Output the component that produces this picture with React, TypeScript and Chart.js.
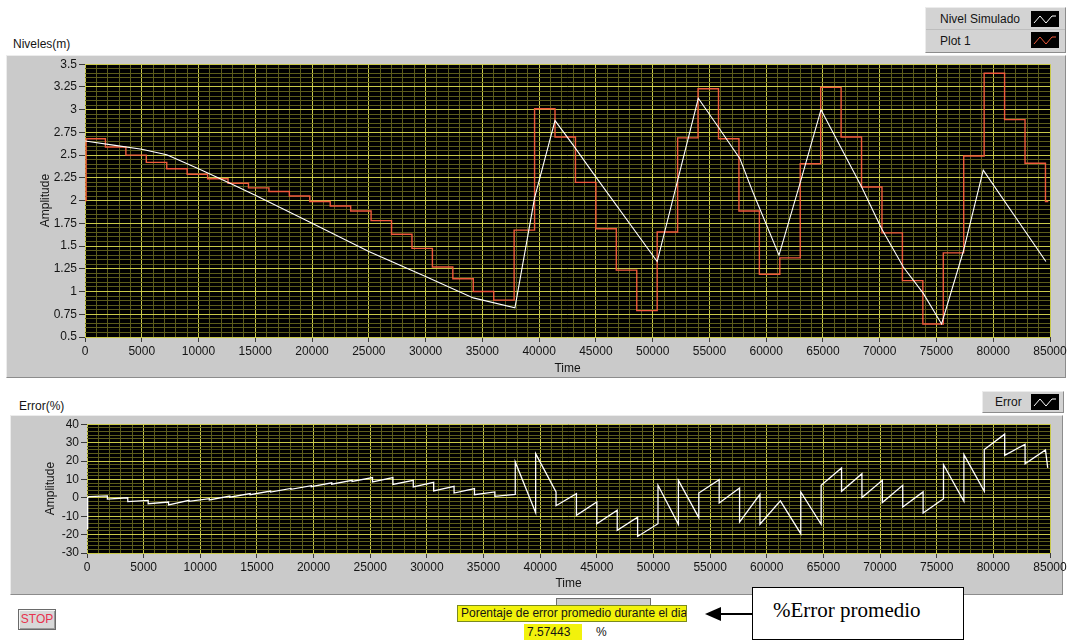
import React, { useEffect, useRef } from 'react';
import { Chart, registerables } from 'chart.js';

Chart.register(...registerables);

const FONT = "'Liberation Sans', Arial, Helvetica, sans-serif";

// ---- Niveles(m) chart ----
const nivelTime = [0, 2500, 5000, 7200, 10000, 12770, 15000, 20000, 25000, 30000, 34200, 37870, 39600, 41400, 43000, 44770, 50400, 54020, 55780, 57690, 58870, 61130, 62980, 64830, 68410, 70170, 72080, 73840, 75450, 77360, 79120, 84640];
const nivelValue = [2.655, 2.61, 2.565, 2.505, 2.35, 2.19, 2.06, 1.75, 1.44, 1.165, 0.93, 0.82, 2.03, 2.88, 2.61, 2.3, 1.33, 3.125, 2.81, 2.46, 2.08, 1.4, 2.19, 3.0, 2.15, 1.69, 1.27, 0.98, 0.643, 1.44, 2.335, 1.33];

const plot1Time = [0, 100, 1800, 3600, 5400, 7200, 9000, 10800, 12600, 14400, 16200, 18000, 19800, 21600, 23400, 25200, 27000, 28800, 30600, 32400, 34200, 36000, 37800, 39600, 41400, 43200, 45000, 46800, 48600, 50400, 52200, 54000, 55800, 57600, 59400, 61200, 63000, 64800, 66600, 68400, 70200, 72000, 73800, 75600, 77400, 79200, 81000, 82800, 84600, 84850];
const plot1Value = [2.0, 2.68, 2.59, 2.5, 2.42, 2.35, 2.29, 2.24, 2.19, 2.14, 2.1, 2.05, 1.99, 1.94, 1.885, 1.78, 1.63, 1.475, 1.27, 1.14, 1.0, 0.905, 1.675, 3.01, 2.7, 2.2, 1.69, 1.235, 0.79, 1.655, 2.69, 3.23, 2.68, 1.885, 1.19, 1.37, 2.405, 3.245, 2.7, 2.15, 1.645, 1.12, 0.643, 1.425, 2.49, 3.4, 2.89, 2.41, 1.99, 1.99];

// ---- Error(%) chart ----
const errorTime = [0, 60, 150, 1800, 1800, 3600, 3600, 5400, 5400, 7200, 7200, 9000, 9000, 10800, 10800, 12600, 12600, 14400, 14400, 16200, 16200, 18000, 18000, 19800, 19800, 21600, 21600, 23400, 23400, 25200, 25200, 27000, 27000, 28800, 28800, 30600, 30600, 32400, 32400, 34200, 34200, 36000, 36000, 37800, 37800, 39600, 39600, 41400, 41400, 43200, 43200, 45000, 45000, 46800, 46800, 48600, 48600, 50400, 50400, 52200, 52200, 54000, 54000, 55800, 55800, 57600, 57600, 59400, 59400, 61200, 63000, 63000, 64800, 64800, 66600, 66600, 68400, 68400, 70200, 70200, 72000, 72000, 73800, 73800, 75600, 75600, 77400, 77400, 79200, 79200, 81000, 81000, 82800, 82800, 84600, 84800];
const errorValue = [-16.8, 0.1, 0.6, 1.0, -0.7, 0.0, -2.1, -1.4, -3.2, -2.3, -3.9, -1.4, -1.9, -0.5, -1.2, 0.9, 0.3, 2.3, 1.7, 3.7, 3.1, 5.1, 4.6, 6.6, 6.0, 8.1, 7.4, 9.5, 8.9, 11.0, 8.6, 11.0, 7.3, 9.5, 5.9, 8.4, 3.7, 6.2, 2.6, 5.0, 1.7, 3.2, 0.8, 1.9, 19.5, -8.1, 24.0, 3.2, -4.3, 2.3, -9.5, -2.3, -14.1, -6.8, -17.7, -10.5, -21.0, -14.1, 6.8, -14.4, 9.5, -10.8, 2.6, 9.9, -2.8, 5.3, -13.2, 1.9, -14.4, -1.7, -19.5, 3.2, -14.4, 6.8, 16.2, 3.5, 13.1, 0.1, 9.5, -2.6, 6.8, -5.0, 3.2, -8.3, -0.5, 18.0, -1.9, 23.5, 3.5, 26.2, 34.6, 23.1, 29.1, 18.5, 26.0, 16.3];

// axis settings
const xMin = 0;
const xMax = 85000;
const xMinorStep = 1000;
const xMajorStep = 5000;
const nivelAxis = { min: 0.5, max: 3.5, minor: 0.05, major: 0.25 };
const errorAxis = { min: -30, max: 40, minor: 2, major: 10 };

const MAJOR = '#c8c84a';
const MINOR = '#5c5c1c';
const TICK_MARK = '#3a3a3a';
const TEXT = '#141414';

const isMult = (v: number, m: number) => Math.abs(v / m - Math.round(v / m)) < 1e-6;
const fmt = (v: number) => String(parseFloat(v.toFixed(3)));

const plotBg = {
  id: 'plotBg',
  beforeDraw(chart: any) {
    const { ctx, chartArea: a } = chart;
    ctx.save();
    ctx.fillStyle = '#000000';
    ctx.fillRect(a.left, a.top, a.right - a.left, a.bottom - a.top);
    ctx.restore();
  },
};

function makeOptions(axis: any, yWidth: number, xHeight: number, yTitlePad: number, xTitlePad: number) {
  return {
    responsive: false,
    animation: false as const,
    devicePixelRatio: 1,
    layout: { padding: { left: 0, top: 9, right: 20, bottom: 0 } },
    plugins: { legend: { display: false }, tooltip: { enabled: false } },
    elements: { point: { radius: 0 }, line: { tension: 0 } },
    scales: {
      x: {
        type: 'linear',
        min: xMin,
        max: xMax,
        ticks: {
          stepSize: xMinorStep,
          autoSkip: false,
          maxRotation: 0,
          padding: 2,
          color: TEXT,
          font: { size: 12, family: FONT },
          callback: (v: number) => (isMult(v, xMajorStep) ? String(v) : ''),
        },
        grid: {
          color: (c: any) => (isMult(c.tick.value, xMajorStep) ? MAJOR : MINOR),
          lineWidth: 1,
          tickLength: 5,
          tickColor: (c: any) => (isMult(c.tick.value, xMajorStep) ? TICK_MARK : 'rgba(0,0,0,0)'),
        },
        border: { display: false },
        title: {
          display: true,
          text: 'Time',
          color: TEXT,
          font: { size: 12, family: FONT },
          padding: { top: 0, bottom: xTitlePad },
        },
        afterFit: (s: any) => {
          s.height = xHeight;
        },
      },
      y: {
        type: 'linear',
        min: axis.min,
        max: axis.max,
        ticks: {
          stepSize: axis.minor,
          autoSkip: false,
          padding: 2,
          color: TEXT,
          font: { size: 12, family: FONT },
          callback: (v: number) => (isMult(v, axis.major) ? fmt(v) : ''),
        },
        grid: {
          color: (c: any) => (isMult(c.tick.value, axis.major) ? MAJOR : MINOR),
          lineWidth: 1,
          tickLength: 6,
          tickColor: (c: any) => (isMult(c.tick.value, axis.major) ? TICK_MARK : 'rgba(0,0,0,0)'),
        },
        border: { display: false },
        title: {
          display: true,
          text: 'Amplitude',
          color: TEXT,
          font: { size: 12, family: FONT },
          padding: { top: yTitlePad, bottom: 0 },
        },
        afterFit: (s: any) => {
          s.width = yWidth;
        },
      },
    },
  };
}

const toXY = (xs: number[], ys: number[]) => xs.map((x, i) => ({ x, y: ys[i] }));

function LegendIcon({ color }: { color: string }) {
  return (
    <svg width={28} height={16} style={{ display: 'block' }}>
      <rect x={0} y={0} width={28} height={16} fill="#000" />
      <polyline points="3,12 9,5 15,12 21,5 25,5" fill="none" stroke={color} strokeWidth={1} />
    </svg>
  );
}

const bevel = {
  borderTop: '1px solid #ececec',
  borderLeft: '1px solid #ececec',
  borderRight: '1px solid #8c8c8c',
  borderBottom: '1px solid #8c8c8c',
  boxSizing: 'border-box' as const,
};

export default function App() {
  const topRef = useRef<HTMLCanvasElement | null>(null);
  const botRef = useRef<HTMLCanvasElement | null>(null);

  useEffect(() => {
    const top = new Chart(topRef.current as HTMLCanvasElement, {
      type: 'line',
      data: {
        datasets: [
          {
            label: 'Nivel Simulado',
            data: toXY(nivelTime, nivelValue),
            borderColor: '#ffffff',
            borderWidth: 1.1,
            pointRadius: 0,
          },
          {
            label: 'Plot 1',
            data: toXY(plot1Time, plot1Value),
            borderColor: '#ef5a3c',
            borderWidth: 1.4,
            stepped: true,
            pointRadius: 0,
          },
        ],
      },
      options: makeOptions(nivelAxis, 77, 41, 30, 2) as any,
      plugins: [plotBg],
    });
    const bot = new Chart(botRef.current as HTMLCanvasElement, {
      type: 'line',
      data: {
        datasets: [
          {
            label: 'Error',
            data: toXY(errorTime, errorValue),
            borderColor: '#ffffff',
            borderWidth: 1.3,
            pointRadius: 0,
          },
        ],
      },
      options: makeOptions(errorAxis, 79, 42, 35, 4) as any,
      plugins: [plotBg],
    });
    return () => {
      top.destroy();
      bot.destroy();
    };
  }, []);

  const abs = (l: number, t: number, w?: number, h?: number) => ({
    position: 'absolute' as const,
    left: l,
    top: t,
    ...(w !== undefined ? { width: w } : {}),
    ...(h !== undefined ? { height: h } : {}),
  });

  return (
    <div
      style={{
        position: 'fixed',
        left: 0,
        top: 0,
        width: 1068,
        height: 640,
        overflow: 'hidden',
        background: '#ffffff',
        fontFamily: FONT,
        fontSize: 12,
        color: TEXT,
      }}
    >
      {/* Top chart */}
      <div style={{ ...abs(13, 37), lineHeight: '14px' }}>Niveles(m)</div>
      <div style={{ ...abs(925, 7, 141, 46), background: '#d3d3d3', ...bevel }}>
        <div style={{ ...abs(14, 4), lineHeight: '14px' }}>Nivel Simulado</div>
        <div style={{ ...abs(105, 3) }}>
          <LegendIcon color="#ffffff" />
        </div>
        <div style={{ ...abs(0, 21, 139, 1), background: '#bdbdbd' }} />
        <div style={{ ...abs(14, 26), lineHeight: '14px' }}>Plot 1</div>
        <div style={{ ...abs(105, 24) }}>
          <LegendIcon color="#ef5a3c" />
        </div>
      </div>
      <div style={{ ...abs(6, 55, 1060, 323), background: '#cacaca', ...bevel }} />
      <canvas ref={topRef} width={1062} height={323} style={{ ...abs(8, 55, 1062, 323) }} />

      {/* Bottom chart */}
      <div style={{ ...abs(19, 399), lineHeight: '14px' }}>Error(%)</div>
      <div style={{ ...abs(982, 391, 82, 22), background: '#d3d3d3', ...bevel }}>
        <div style={{ ...abs(12, 3), lineHeight: '14px' }}>Error</div>
        <div style={{ ...abs(48, 2) }}>
          <LegendIcon color="#ffffff" />
        </div>
      </div>
      <div style={{ ...abs(10, 415, 1053, 180), background: '#cacaca', ...bevel }} />
      <canvas ref={botRef} width={1062} height={180} style={{ ...abs(8, 415, 1062, 180) }} />

      {/* Controls */}
      <div
        style={{
          ...abs(18, 609, 38, 21),
          background: '#d8d8d8',
          border: '1px solid #6a6a6a',
          boxSizing: 'border-box',
          boxShadow: 'inset 1px 1px 0 #f4f4f4, inset -1px -1px 0 #9a9a9a',
          color: '#e8324e',
          fontSize: 12,
          lineHeight: '19px',
          textAlign: 'center',
        }}
      >
        STOP
      </div>
      <div
        style={{
          ...abs(556, 598, 95, 14),
          background: '#cfcfcf',
          border: '1px solid #6e6e6e',
          boxSizing: 'border-box',
        }}
      />
      <div
        style={{
          ...abs(457, 605, 230, 17),
          background: '#f2f20c',
          border: '1px solid #7a8a20',
          boxSizing: 'border-box',
          fontSize: 12,
          lineHeight: '15px',
          paddingLeft: 3,
          whiteSpace: 'nowrap',
          overflow: 'hidden',
        }}
      >
        Porentaje de error promedio durante el dia
      </div>
      <div
        style={{
          ...abs(524, 624, 58, 16),
          background: '#f2f20c',
          fontSize: 12,
          lineHeight: '16px',
          paddingLeft: 3,
          boxSizing: 'border-box',
        }}
      >
        7.57443
      </div>
      <div style={{ ...abs(596, 625), lineHeight: '14px' }}>%</div>

      <svg style={{ ...abs(704, 605, 50, 18) }} width={50} height={18}>
        <line x1={14} y1={9} x2={49} y2={9} stroke="#000" strokeWidth={2} />
        <polygon points="1,9 17,2 17,16" fill="#000" />
      </svg>
      <div
        style={{
          ...abs(752, 587, 212, 53),
          border: '1.5px solid #000',
          background: '#fff',
          boxSizing: 'border-box',
          fontFamily: "'Liberation Serif', 'Times New Roman', serif",
          fontSize: 21,
          color: '#000',
          paddingLeft: 20,
          lineHeight: '44px',
        }}
      >
        %Error promedio
      </div>
    </div>
  );
}
